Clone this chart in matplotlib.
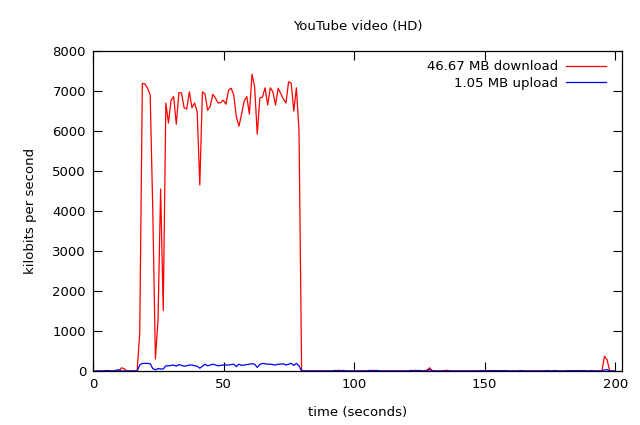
import numpy as np
import matplotlib
matplotlib.use("Agg")
import matplotlib.pyplot as plt

# sample index k -> time k + 0.9 seconds
t_offset = 0.9

# download (kbit/s), one sample per second, k = 0..199
download = [0]*200
download_active = {
    10: 80, 11: 60,
    17: 950, 18: 7190, 19: 7175, 20: 7070, 21: 6900, 22: 4000, 23: 300, 24: 1270,
    25: 4550, 26: 1510, 27: 6700, 28: 6200, 29: 6770, 30: 6860, 31: 6170, 32: 6960,
    33: 6950, 34: 6580, 35: 6550, 36: 6980, 37: 6580, 38: 6700, 39: 6480, 40: 4650,
    41: 6980, 42: 6920, 43: 6520, 44: 6620, 45: 6920, 46: 6820, 47: 6700, 48: 6710,
    49: 6770, 50: 6670, 51: 7020, 52: 7070, 53: 6900, 54: 6350, 55: 6120, 56: 6420,
    57: 6750, 58: 6860, 59: 6420, 60: 7420, 61: 7110, 62: 5920, 63: 6820, 64: 6850,
    65: 7080, 66: 6650, 67: 7080, 68: 6980, 69: 6650, 70: 7070, 71: 6940, 72: 6800,
    73: 6700, 74: 7230, 75: 7200, 76: 6500, 77: 7080, 78: 6020,
    93: 15, 94: 15, 106: 15, 107: 15, 122: 15, 123: 15, 127: 20, 128: 80, 129: 10,
    134: 15, 135: 15, 149: 10, 150: 10, 152: 10, 154: 10, 156: 10, 163: 10, 173: 10,
    176: 10, 182: 10, 184: 10, 186: 10, 190: 10, 195: 370, 196: 280,
}
for k, v in download_active.items():
    download[k] = v

upload = [0]*200
upload_active = {
    4: 10, 5: 10, 8: 20, 9: 30,
    17: 150, 18: 190, 19: 190, 20: 190, 21: 180, 22: 60, 23: 30, 24: 60, 25: 50,
    26: 50, 27: 130, 28: 130, 29: 140, 30: 150, 31: 120, 32: 160, 33: 140, 34: 120,
    35: 130, 36: 150, 37: 150, 38: 130, 39: 120, 40: 70, 41: 120, 42: 170, 43: 130,
    44: 150, 45: 170, 46: 150, 47: 130, 48: 140, 49: 150, 50: 150, 51: 150, 52: 160,
    53: 170, 54: 110, 55: 170, 56: 140, 57: 150, 58: 160, 59: 170, 60: 180, 61: 170,
    62: 90, 63: 160, 64: 190, 65: 180, 66: 170, 67: 170, 68: 160, 69: 150, 70: 170,
    71: 170, 72: 180, 73: 150, 74: 170, 75: 190, 76: 140, 77: 190, 78: 130,
    92: 15, 95: 15, 105: 15, 108: 15, 121: 15, 124: 15, 128: 40, 148: 10, 151: 10,
    153: 10, 155: 10, 157: 10, 163: 10, 173: 10, 176: 10, 181: 10, 183: 10, 185: 10,
    187: 10, 190: 10, 195: 30, 196: 30,
}
for k, v in upload_active.items():
    upload[k] = v

time_s = np.arange(200) + t_offset

title = "YouTube video (HD)"
labels = ["46.67 MB download", "1.05 MB upload"]

plt.rcParams['font.family'] = ['DejaVu Sans']
fig = plt.figure(figsize=(6.4, 4.25), dpi=100)
ax = fig.add_axes([93/640, 1 - 371/425, (622-93)/640, (371-51)/425])

ax.plot(time_s, download, color='#ff0000', lw=0.9, label=labels[0])
ax.plot(time_s, upload, color='#0000ff', lw=0.9, label=labels[1])

ax.set_xlim(0, 202.6)
ax.set_ylim(0, 8000)
ax.set_xticks([0, 50, 100, 150, 200])
ax.set_yticks(range(0, 8001, 1000))
ax.tick_params(direction='in', length=6.5, width=0.8, top=True, right=True,
               labelsize=9.5, pad=5)
for s in ax.spines.values():
    s.set_linewidth(0.9)

ax.set_title(title, fontsize=9.5, pad=14.8)
ax.set_xlabel("time (seconds)", fontsize=9.5, labelpad=11)
ax.set_ylabel("kilobits per second", fontsize=9.5, labelpad=11)

leg = ax.legend(loc='upper right', frameon=False, markerfirst=False,
                fontsize=9.5, handlelength=3.0, handletextpad=0.6,
                labelspacing=0.25, borderaxespad=0.3, alignment='right',
                bbox_to_anchor=(0.987, 1.0))
for txt in leg.get_texts():
    txt.set_ha('right')

fig.savefig("out.png", dpi=100)
